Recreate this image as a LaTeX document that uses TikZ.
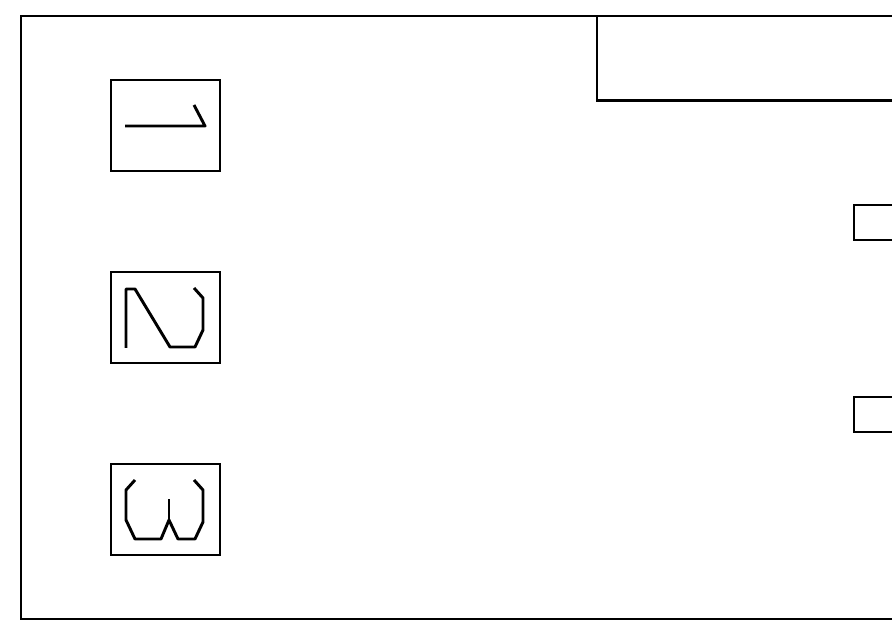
\documentclass[tikz,border=0pt]{standalone}
\usepackage{tikz}

\tikzset{
  panel/.style={line width=2.2pt},
  glyph/.style={line width=2.2pt, line join=round},
}

\begin{document}
\begin{tikzpicture}[x=0.75pt, y=-0.75pt]
        \useasboundingbox (0,0) rectangle (892,630);

        % Khung ngoai
        \draw[panel] (892,16) -- (21,16) -- (21,619) -- (892,619);
        \draw[panel] (597,16) -- (597,100.5) -- (892,100.5);

        % O nho ben phai
        \foreach \y in {205,397} {
            \draw[panel] (892,\y) -- (854,\y) -- (854,\y+35) -- (892,\y+35);
        }

        % Ba o ky hieu
        \foreach \y in {80,272,464} {
            \draw[panel] (111,\y) rectangle (220,\y+91);
        }

        % Ky hieu 1
        \begin{scope}[shift={(111,80)}]
            \draw[glyph] (14,46) -- (94,46) -- (83,25);
        \end{scope}

        % Ky hieu 2
        \begin{scope}[shift={(111,272)}]
            \draw[glyph] (15,76) -- (15,17) -- (24,17) -- (59,75) -- (84,75) -- (92,58) -- (92,26) -- (83,16);
        \end{scope}

        % Ky hieu 3
        \begin{scope}[shift={(111,464)}]
            \draw[glyph] (24,16) -- (15,26) -- (15,56) -- (24,75) -- (50,75) -- (58,56) -- (67,75) -- (84,75) -- (92,58) -- (92,26) -- (83,16);
            \draw[glyph] (58,35) -- (58,56);
        \end{scope}
\end{tikzpicture}
\end{document}
